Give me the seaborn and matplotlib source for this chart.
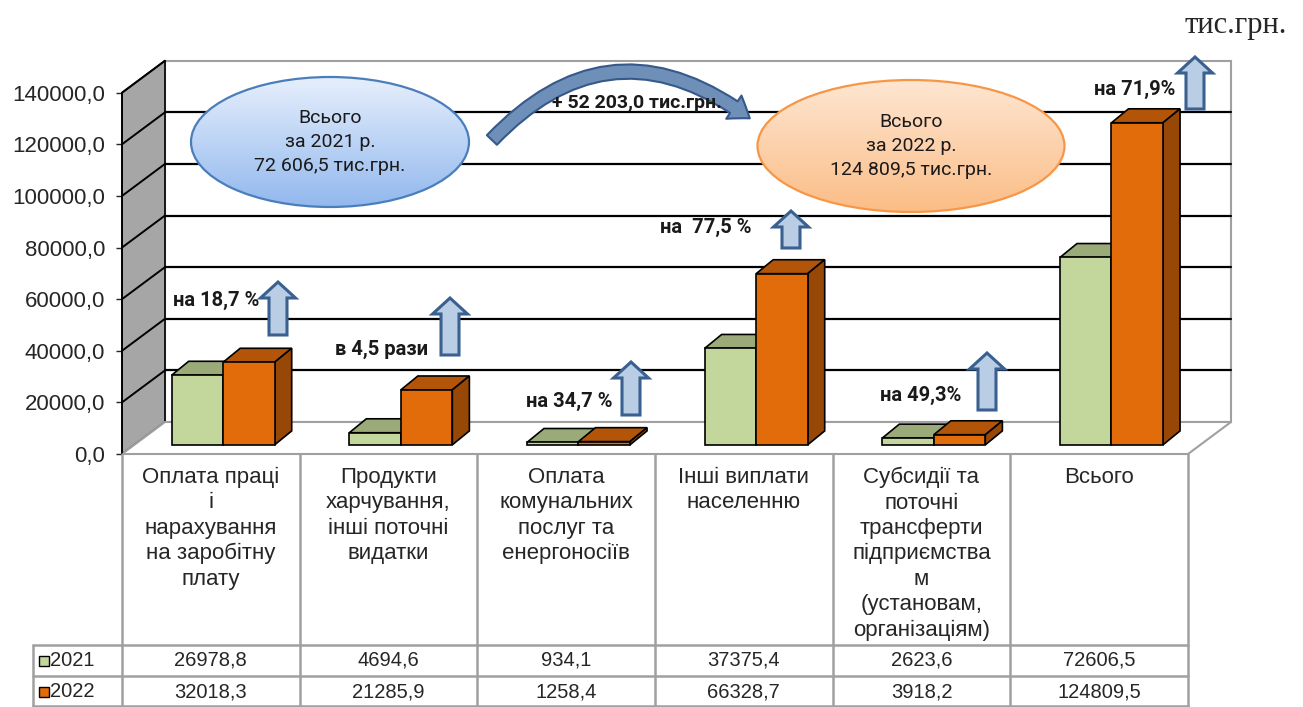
import numpy as np
import pandas as pd
import seaborn as sns
import matplotlib.pyplot as plt
from matplotlib.patches import Polygon, Ellipse, FancyArrowPatch
from matplotlib.colors import LinearSegmentedColormap

categories = [
    "Оплата праці\nі\nнарахування\nна заробітну\nплату",
    "Продукти\nхарчування,\nінші поточні\nвидатки",
    "Оплата\nкомунальних\nпослуг та\nенергоносіїв",
    "Інші виплати\nнаселенню",
    "Субсидії та\nпоточні\nтрансферти\nпідприємства\nм\n(установам,\nорганізаціям)",
    "Всього",
]
years = ["2021", "2022"]
values_2021 = [26978.8, 4694.6, 934.1, 37375.4, 2623.6, 72606.5]
values_2022 = [32018.3, 21285.9, 1258.4, 66328.7, 3918.2, 124809.5]
growth_labels = ["на 18,7 %", "в 4,5 рази", "на 34,7 %", "на  77,5 %", "на 49,3%", "на 71,9%"]
yticks = list(range(0, 140001, 20000))
total_2021 = "Всього\nза 2021 р.\n72 606,5 тис.грн."
total_2022 = "Всього\nза 2022 р.\n124 809,5 тис.грн."
diff_label = "+ 52 203,0 тис.грн."
unit_label = "тис.грн."

green, orange = "#c3d69b", "#e36c0a"
green_top, green_side = "#9aaa78", "#7d8c5c"
orange_top, orange_side = "#b35508", "#974806"
grey = "#a0a0a0"

df = pd.DataFrame({
    "cat": categories * 2,
    "year": [years[0]] * 6 + [years[1]] * 6,
    "value": values_2021 + values_2022,
})

sns.set_style("white")
plt.rcParams["font.family"] = ["Liberation Sans", "DejaVu Sans"]

W, H = 1303, 707
fig = plt.figure(figsize=(W / 100, H / 100), dpi=100)
L = 122 / W
AW = 1066 / W
ax = fig.add_axes([L, 1 - 454 / H, AW, 361.3 / H])

# 3d depth of the chart box and of the bars
DX, DY = 0.242, 12400
FB = 0.286
BX, BY = 0.096, 5400

sns.barplot(data=df, x="cat", y="value", hue="year", order=categories,
            palette=[green, orange], width=0.58, saturation=1,
            edgecolor="black", linewidth=1.2, legend=False, ax=ax)

ax.set_xlim(-0.5, 5.5)
ax.set_ylim(0, 140000)

# walls and floor
ax.add_patch(Polygon([(-0.5 + DX, DY), (5.5 + DX, DY), (5.5 + DX, 140000 + DY), (-0.5 + DX, 140000 + DY)],
                     closed=True, fc="white", ec=grey, lw=1.5, clip_on=False, zorder=0.5))
ax.add_patch(Polygon([(-0.5, 0), (-0.5 + DX, DY), (-0.5 + DX, 140000 + DY), (-0.5, 140000)],
                     closed=True, fc="#a6a6a6", ec="black", lw=1.2, clip_on=False, zorder=0.6))
ax.add_patch(Polygon([(-0.5, 0), (5.5, 0), (5.5 + DX, DY), (-0.5 + DX, DY)],
                     closed=True, fc="white", ec=grey, lw=1.5, clip_on=False, zorder=0.6))
for v in yticks[1:-1]:
    ax.plot([-0.5 + DX, 5.5 + DX], [v + DY, v + DY], color="black", lw=1.6, clip_on=False, zorder=0.7)
for v in yticks[1:]:
    ax.plot([-0.5, -0.5 + DX], [v, v + DY], color="black", lw=1.4, clip_on=False, zorder=0.7)

# bars: shift fronts into depth, add tops and sides
tops = [(green_top, green_side, 2.5), (orange_top, orange_side, 3.5)]
for k, cont in enumerate(ax.containers):
    tc, sc, z = tops[k]
    for rect in cont:
        rect.set_x(rect.get_x() + FB * DX)
        rect.set_y(FB * DY)
        rect.set_clip_on(False)
        rect.set_zorder(z + 0.4)
        x, y0, w, h = rect.get_x(), rect.get_y(), rect.get_width(), rect.get_height()
        ax.add_patch(Polygon([(x, y0 + h), (x + w, y0 + h), (x + w + BX, y0 + h + BY), (x + BX, y0 + h + BY)],
                             closed=True, fc=tc, ec="black", lw=1.2, clip_on=False, zorder=z))
        ax.add_patch(Polygon([(x + w, y0), (x + w + BX, y0 + BY), (x + w + BX, y0 + h + BY), (x + w, y0 + h)],
                             closed=True, fc=sc, ec="black", lw=1.2, clip_on=False, zorder=z))

for s in ["top", "right", "bottom"]:
    ax.spines[s].set_visible(False)
ax.spines["left"].set_color("black")
ax.spines["left"].set_linewidth(1.2)
ax.spines["left"].set_zorder(1)
ax.set_xticks([])
ax.set_xlabel("")
ax.set_ylabel("")
ax.set_yticks(yticks)
ax.set_yticklabels([f"{v:.1f}".replace(".", ",") for v in yticks])
ax.tick_params(axis="y", left=True, direction="out", length=4, width=1, pad=8, labelsize=16)
ax.patch.set_visible(False)

# data table under the chart
ax_t = fig.add_axes([L, 0, AW, 253 / H])
ax_t.set_xlim(-0.5, 5.5)
ax_t.set_ylim(253, 0)
ax_t.axis("off")
for i in range(7):
    ax_t.plot([i - 0.5, i - 0.5], [0, 253], color=grey, lw=1.8, clip_on=False)
for yy in [191, 222, 252]:
    ax_t.plot([-1.0, 5.5], [yy, yy], color=grey, lw=1.8, clip_on=False)
ax_t.plot([-1.0, -1.0], [191, 253], color=grey, lw=1.8, clip_on=False)
for i, cat in enumerate(categories):
    ax_t.text(i, 13, cat, ha="center", va="top", fontsize=16, linespacing=1.27)
    ax_t.text(i, 206.5, f"{values_2021[i]:.1f}".replace(".", ","), ha="center", va="center", fontsize=14.5)
    ax_t.text(i, 237.5, f"{values_2022[i]:.1f}".replace(".", ","), ha="center", va="center", fontsize=14.5)
for yy, yr, col in [(206.5, years[0], green), (237.5, years[1], orange)]:
    ax_t.plot([-0.94], [yy], marker="s", ms=7, mfc=col, mec="black", mew=1, clip_on=False)
    ax_t.text(-0.905, yy, yr, ha="left", va="center", fontsize=14.5)

# overlay for callouts
ax_o = fig.add_axes([0, 0, 1, 1], zorder=5)


def gradient_ellipse(cx, cy, w, h, c_top, c_bot, edge):
    cmap = LinearSegmentedColormap.from_list("g", [c_top, c_bot])
    el = Ellipse((cx, cy), w, h, fc="none", ec=edge, lw=1.6, zorder=3)
    im = ax_o.imshow(np.linspace(0, 1, 256).reshape(-1, 1), cmap=cmap, aspect="auto",
                     extent=(cx - w / 2, cx + w / 2, cy + h / 2, cy - h / 2), origin="upper", zorder=2)
    ax_o.add_patch(el)
    im.set_clip_path(el)


gradient_ellipse(330, 142, 278, 130, "#e6effc", "#92b8ee", "#4a7ebb")
gradient_ellipse(911, 146, 307, 132, "#fee6d2", "#fbbd86", "#f79646")
ax_o.text(330, 142, total_2021, ha="center", va="center", fontsize=14, family="Roboto",
          linespacing=1.45, color="#1a1a1a", zorder=4)
ax_o.text(911, 146, total_2022, ha="center", va="center", fontsize=14, family="Roboto",
          linespacing=1.45, color="#1a1a1a", zorder=4)

arc = FancyArrowPatch((490, 142), (752, 120), connectionstyle="arc3,rad=-0.45",
                      arrowstyle="simple,head_width=20,head_length=14,tail_width=10",
                      mutation_scale=1, fc="#6e8fb8", ec="#36598a", lw=1.5, zorder=3)
ax_o.add_patch(arc)
ax_o.text(637, 103, diff_label, ha="center", va="center", fontsize=14, fontweight="bold",
          family="Roboto", color="#1a1a1a", zorder=4)


def up_arrow(xc, yb, yt, shaft=18, head=35, hl=16):
    pts = [(xc - shaft / 2, yb), (xc - shaft / 2, yt + hl), (xc - head / 2, yt + hl), (xc, yt),
           (xc + head / 2, yt + hl), (xc + shaft / 2, yt + hl), (xc + shaft / 2, yb)]
    ax_o.add_patch(Polygon(pts, closed=True, fc="#b9cde5", ec="#3a6090", lw=2.2,
                           joinstyle="miter", zorder=3))


arrows = [(278, 335, 282), (450, 355, 298), (631, 415, 362), (791, 248, 211), (987, 410, 353), (1195, 109, 57)]
label_pos = [(259, 300), (428, 349), (612, 401), (752, 227), (961, 395), (1175, 89)]
for (xc, yb, yt), (lx, ly), lab in zip(arrows, label_pos, growth_labels):
    up_arrow(xc, yb, yt)
    ax_o.text(lx, ly, lab, ha="right", va="center", fontsize=14.5, fontweight="bold",
              family="Roboto", color="#1a1a1a", zorder=4)

ax_o.text(1287, 25, unit_label, ha="right", va="center", fontsize=22, family="Liberation Serif")

ax_o.set_xlim(0, W)
ax_o.set_ylim(H, 0)
ax_o.axis("off")

fig.savefig("out.png", dpi=100)
